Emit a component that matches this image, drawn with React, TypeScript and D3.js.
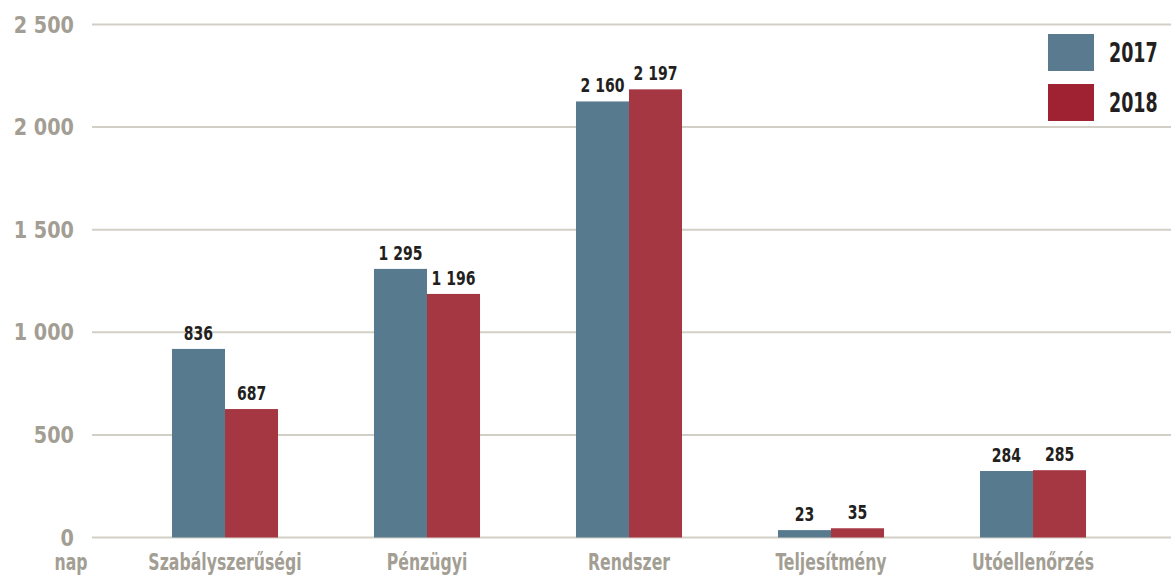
import React from "react";
import * as d3 from "d3";

const categories = ["Szabályszerűségi", "Pénzügyi", "Rendszer", "Teljesítmény", "Utóellenőrzés"];
const series = ["2017", "2018"];
// bar heights as drawn in the reference
const values2017 = [919, 1309, 2125, 36, 324];
const values2018 = [626, 1187, 2184, 45, 328];
// value labels printed above the bars
const labels2017 = ["836", "1 295", "2 160", "23", "284"];
const labels2018 = ["687", "1 196", "2 197", "35", "285"];
const yTicks = [0, 500, 1000, 1500, 2000, 2500];
const yTickLabels = ["0", "500", "1 000", "1 500", "2 000", "2 500"];
const unitLabel = "nap";

const W = 1171;
const H = 575;
const FONT = "'DejaVu Sans Condensed', 'DejaVu Sans', sans-serif";
const barColors = ["#587a8f", "#a53743"];
const legendColors = ["#5a7a8f", "#9e2232"];
const gridColor = "#d2d0c6";
const axisTextColor = "#a39e93";
const darkText = "#231f20";

type TProps = { x: number; y: number; sx: number; size: number; fill: string; anchor?: string; children: React.ReactNode };
function CText({ x, y, sx, size, fill, anchor = "start", children }: TProps) {
  return (
    <text transform={`translate(${x},${y}) scale(${sx},1)`} textAnchor={anchor} fontSize={size} fontWeight="bold" fill={fill}>
      {children}
    </text>
  );
}

export default function App() {
  const x = d3.scaleBand<string>().domain(categories).range([124, 1134]).paddingInner(0.475).paddingOuter(0.2375);
  const xs = d3.scaleBand<string>().domain(series).range([0, x.bandwidth()]);
  const y = d3.scaleLinear().domain([0, 2500]).range([537.5, 24.5]);
  const vals = [values2017, values2018];
  const labs = [labels2017, labels2018];

  return (
    <svg width={W} height={H} style={{ position: "absolute", left: 0, top: 0, display: "block", background: "#fff" }} fontFamily={FONT}>
      {yTicks.map((t, i) => (
        <g key={t}>
          <line x1={92} x2={W} y1={y(t)} y2={y(t)} stroke={gridColor} strokeWidth={2} />
          <CText x={74} y={y(t) + 8} sx={0.93} size={23} fill={axisTextColor} anchor="end">
            {yTickLabels[i]}
          </CText>
        </g>
      ))}
      <CText x={71} y={570} sx={0.76} size={23} fill={axisTextColor} anchor="middle">{unitLabel}</CText>
      {categories.map((c, ci) => (
        <g key={c} transform={`translate(${x(c)},0)`}>
          {series.map((s, si) => (
            <rect key={s} x={xs(s)} y={y(vals[si][ci])} width={xs.bandwidth()} height={y(0) - y(vals[si][ci])} fill={barColors[si]} />
          ))}
          {series.map((s, si) => (
            <CText key={s + "l"} x={(xs(s) as number) + xs.bandwidth() / 2} y={y(vals[si][ci]) - 9} sx={0.78} size={20} fill={darkText} anchor="middle">
              {labs[si][ci]}
            </CText>
          ))}
          <CText x={x.bandwidth() / 2} y={570} sx={0.76} size={23} fill={axisTextColor} anchor="middle">{c}</CText>
        </g>
      ))}
      <rect x={1035} y={27} width={136} height={98} fill="#fff" />
      {series.map((s, si) => (
        <g key={s} transform={`translate(1048,${34 + si * 50})`}>
          <rect width={46} height={37} fill={legendColors[si]} />
          <CText x={61} y={28} sx={0.72} size={27} fill={darkText}>{s}</CText>
        </g>
      ))}
    </svg>
  );
}
